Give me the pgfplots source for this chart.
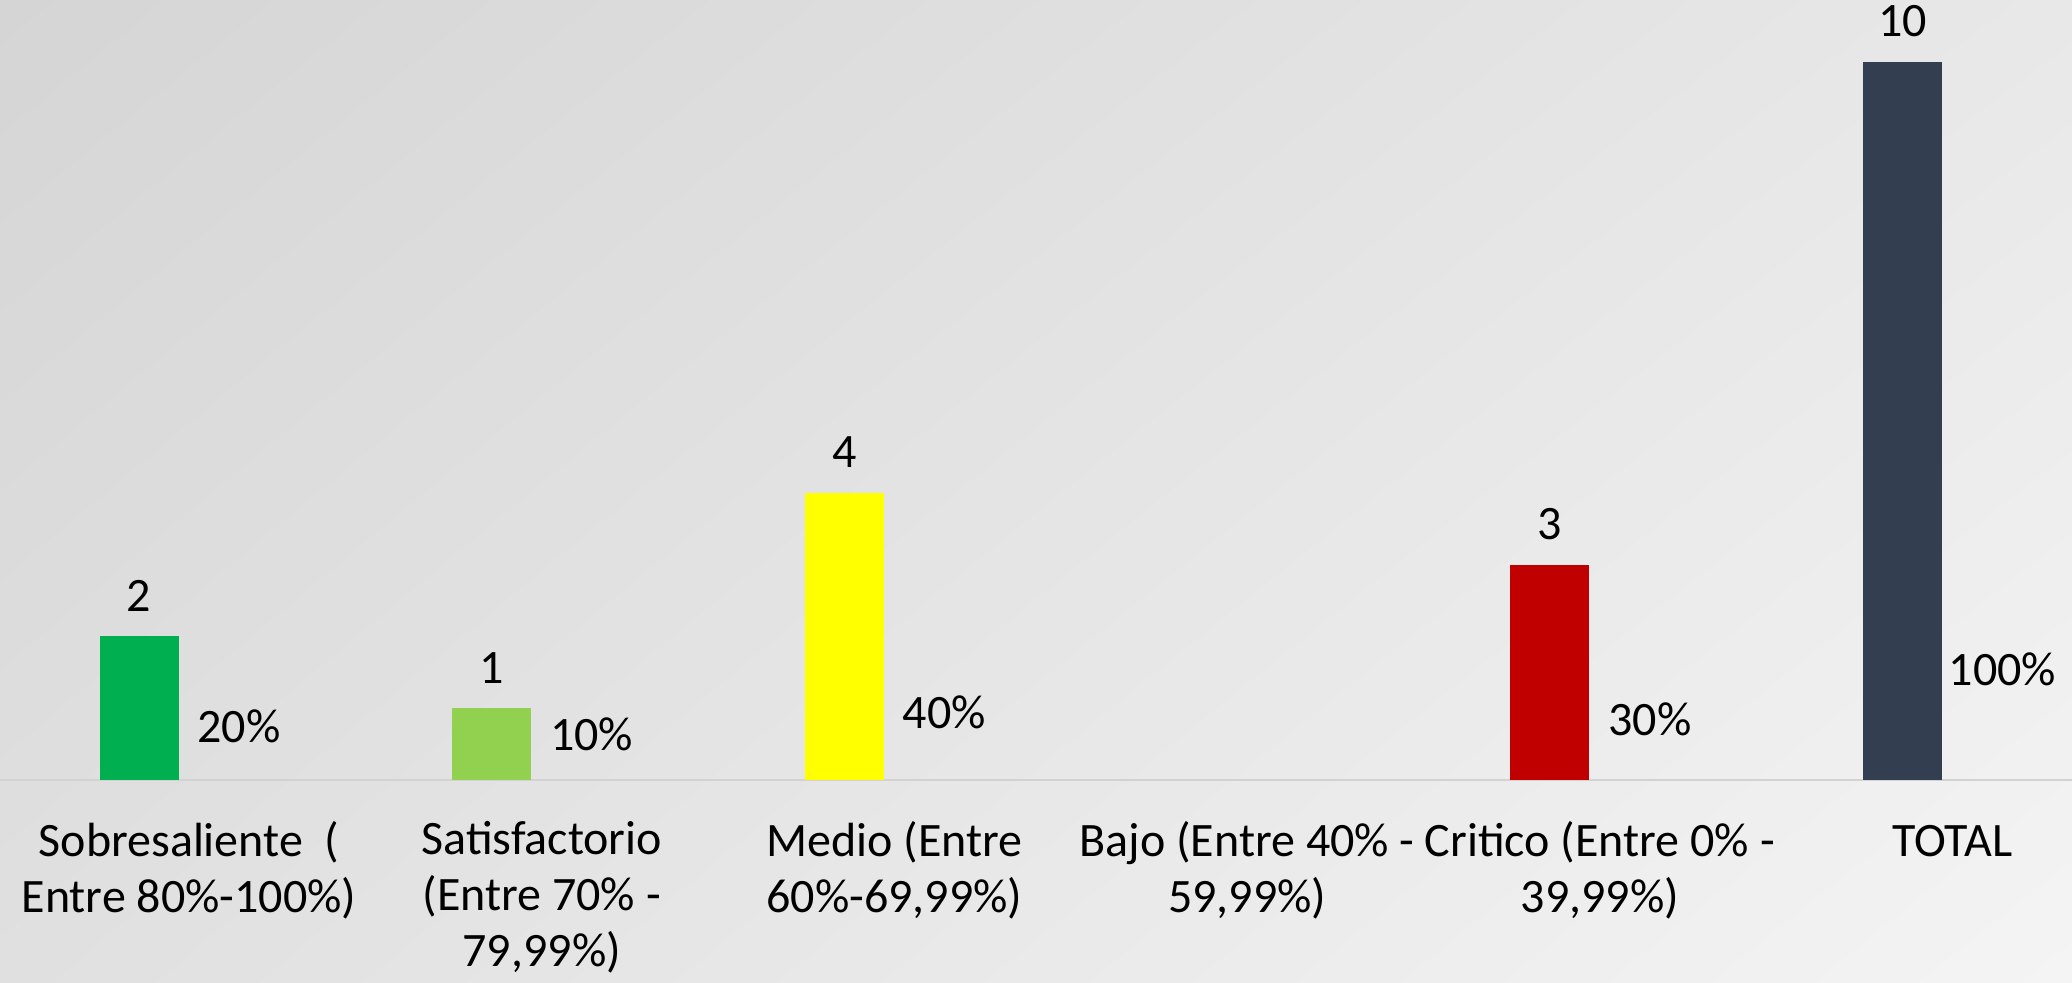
\documentclass[border=0pt]{standalone}
\usepackage{fontspec}
\setmainfont{Carlito}
\usepackage{pgfplots}
\pgfplotsset{compat=1.18}
\usetikzlibrary{shadings}
\definecolor{cSob}{HTML}{00B050}
\definecolor{cSat}{HTML}{92D050}
\definecolor{cMed}{HTML}{FFFF00}
\definecolor{cCri}{HTML}{C00000}
\definecolor{cTot}{HTML}{333F50}
\definecolor{bgUL}{HTML}{D5D5D5}
\definecolor{bgUR}{HTML}{E8E8E8}
\definecolor{bgLL}{HTML}{E0E0E0}
\definecolor{bgLR}{HTML}{F4F4F4}
\definecolor{baseline}{HTML}{D2D2D2}
\begin{document}
\begin{tikzpicture}
\useasboundingbox (0,0) rectangle (1036pt,491pt);
\shade[upper left=bgUL, upper right=bgUR, lower left=bgLL, lower right=bgLR] (0,0) rectangle (1036pt,491pt);
\begin{axis}[
  at={(0pt,101pt)}, anchor=south west,
  scale only axis, width=1036pt, height=390pt,
  xmin=-0.536, xmax=5.339, ymin=0, ymax=10.86,
  clip=false,
  axis y line=none,
  axis x line=bottom,
  x axis line style={draw=baseline, line width=1pt, -},
  xtick={0,1,2,3,4,5},
  major tick length=0pt,
  xticklabels={{Sobresaliente~ (\\Entre 80\%-100\%)},{Satisfactorio\\(Entre 70\% -\\79,99\%)},{Medio (Entre\\60\%-69,99\%)},{Bajo (Entre 40\% -\\59,99\%)},{Critico (Entre 0\% -\\39,99\%)},{\vphantom{(}TOTAL}},
  xticklabel style={align=center, anchor=north, yshift=-17pt, font=\fontsize{24}{28}\selectfont},
  every node near coord/.style={anchor=base, font=\fontsize{24}{28}\selectfont, text=black},
  cnt/.style={ybar, bar width=39.5pt, bar shift=-25pt, draw=none, point meta=explicit symbolic, nodes near coords, every node near coord/.append style={yshift=12.4pt, xshift=-25pt}},
]
\addplot[cnt, fill=cSob] coordinates {(0,2) [2]};
\addplot[cnt, fill=cSat] coordinates {(1,1) [1]};
\addplot[cnt, fill=cMed] coordinates {(2,4) [4]};
\addplot[cnt, fill=cCri] coordinates {(4,3) [3]};
\addplot[cnt, fill=cTot] coordinates {(5,10) [10]};
\addplot[ybar, bar width=39.5pt, bar shift=25pt, fill=none, draw=none, point meta=explicit symbolic, nodes near coords, every node near coord/.append style={yshift=11.4pt, xshift=25pt}] coordinates {(0,0.2) [20\%] (1,0.1) [10\%] (2,0.4) [40\%] (4,0.3) [30\%] (5,1.0) [100\%]};
\end{axis}
\end{tikzpicture}
\end{document}
